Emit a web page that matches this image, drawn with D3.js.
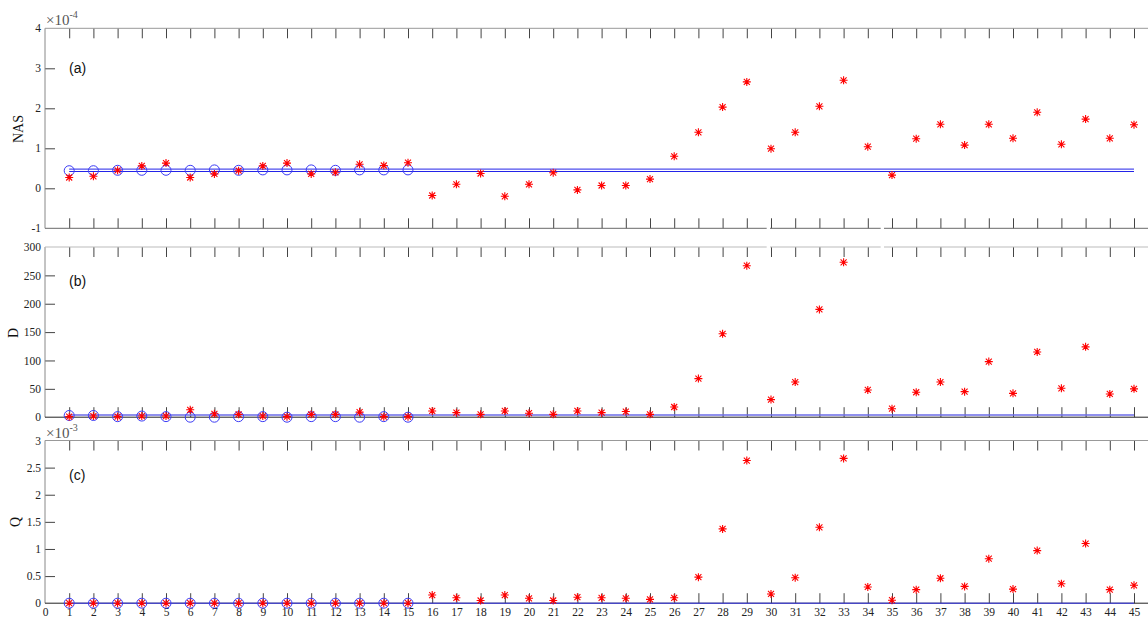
<!DOCTYPE html>
<html><head><meta charset="utf-8">
<script src="https://cdn.jsdelivr.net/npm/d3@7"></script>
<style>
body{margin:0;background:#fff}
svg{display:block}
</style>
</head><body>
<svg id="chart" width="1148" height="619"></svg>
<script>
// ---------- DATA ----------
const samples = d3.range(1, 46);            // 1..45
const xTickLabels = d3.range(0, 46);        // 0..45

// (a) NAS (x 1e-4)
const nasStar = [0.27,0.30,0.45,0.56,0.63,0.27,0.36,0.44,0.56,0.63,0.36,0.40,0.60,0.57,0.64,
                 -0.18,0.10,0.37,-0.20,0.10,0.39,-0.04,0.07,0.07,0.23,0.80,1.40,2.03,2.66,
                 0.99,1.40,2.05,2.70,1.04,0.33,1.24,1.60,1.08,1.60,1.25,1.90,1.10,1.73,1.25,1.59];
const nasCircle = [0.44,0.44,0.45,0.45,0.45,0.45,0.46,0.45,0.46,0.46,0.46,0.45,0.46,0.46,0.46];
const nasLimits = [0.42, 0.48];
const nasTicks = [-1,0,1,2,3,4];

// (b) D
const dStar = [1,2,1,2,2,13,6,5,2,1,5,5,9,1,1,
               11,8,5,11,7,5,11,8,10,5,18,68,147,267,
               31,62,190,273,48,15,44,62,45,98,42,115,51,124,41,50];
const dCircle = [3,3,1,2,1,0,0,1,1,0,1,1,0,1,0];
const dLimit = [4];
const dTicks = [0,50,100,150,200,250,300];

// (c) Q (x 1e-3)
const qStar = [0,0,0,0,0,0,0,0,0,0,0,0,0,0,0,
               0.15,0.10,0.05,0.15,0.09,0.05,0.11,0.10,0.09,0.07,0.10,0.48,1.37,2.63,
               0.17,0.47,1.40,2.67,0.30,0.055,0.25,0.46,0.31,0.82,0.26,0.97,0.36,1.10,0.25,0.33];
const qCircle = [0,0,0,0,0,0,0,0,0,0,0,0,0,0,0];
const qLimit = [0];
const qTicks = [0,0.5,1,1.5,2,2.5,3];

// ---------- LAYOUT ----------
const svg = d3.select("#chart");
const x = d3.scaleLinear().domain([0, 46]).range([45, 45 + 46 * 24.2]);
const xLeft = x(0), xRight = x(46);

const panels = [
  {key:"a", top:28.3, bottom:228.3, domain:[-1,4], ticks:nasTicks, star:nasStar, circle:nasCircle,
   limits:nasLimits, limitColor:"#2323e8", limitWidth:1, ylabel:"NAS", ylx:23, yly:129,
   label:"(a)", labelY:73, exp:"-4", xLabels:false, topGaps:[], bottomGaps:[[766.7,770],[880.7,884]],
   topColor:"#999", bottomColor:"#6a6a6a"},
  {key:"b", top:247, bottom:417.2, domain:[0,300], ticks:dTicks, star:dStar, circle:dCircle,
   limits:dLimit, limitColor:"#6b6be8", limitWidth:1.6, ylabel:"D", ylx:18, yly:333,
   label:"(b)", labelY:286, exp:null, xLabels:false, topGaps:[[766.7,770],[880.7,884]], bottomGaps:[],
   topColor:"#bbb", bottomColor:"#222"},
  {key:"c", top:440.5, bottom:603.2, domain:[0,3], ticks:qTicks, star:qStar, circle:qCircle,
   limits:qLimit, limitColor:"#3a3af0", limitWidth:1, ylabel:"Q", ylx:19.5, yly:522,
   label:"(c)", labelY:480, exp:"-3", xLabels:true, topGaps:[], bottomGaps:[],
   topColor:"#999", bottomColor:"#222"}
];

const starPath = "M-4,0H4M0,-4V4M-3,-3L3,3M-3,3L3,-3";

function hline(g, y, x0, x1, gaps, color){
  let segs = [];
  let cur = x0;
  gaps.forEach(([a,b]) => { segs.push([cur,a]); cur = b; });
  segs.push([cur,x1]);
  segs.forEach(([a,b]) => {
    g.append("line").attr("x1",a).attr("x2",b).attr("y1",y).attr("y2",y)
      .attr("stroke",color).attr("stroke-width",1);
  });
}

panels.forEach(p => {
  const y = d3.scaleLinear().domain(p.domain).range([p.bottom, p.top]);
  const g = svg.append("g");

  const fmt = v => String(v);
  const left = g.append("g").attr("transform",`translate(${xLeft},0)`)
    .call(d3.axisLeft(y).tickValues(p.ticks).tickSizeInner(-10).tickSizeOuter(0).tickPadding(4).tickFormat(fmt));
  const right = g.append("g").attr("transform",`translate(${xRight},0)`)
    .call(d3.axisRight(y).tickValues(p.ticks).tickSizeInner(-10).tickSizeOuter(0).tickFormat(""));
  const top = g.append("g").attr("transform",`translate(0,${p.top})`)
    .call(d3.axisTop(x).tickValues(d3.range(1,47)).tickSizeInner(-10).tickSizeOuter(0).tickFormat(""));
  const bottom = g.append("g").attr("transform",`translate(0,${p.bottom})`)
    .call(d3.axisBottom(x).tickValues(p.xLabels ? xTickLabels : d3.range(1,47))
      .tickSizeInner(-10).tickSizeOuter(0).tickPadding(4.5)
      .tickFormat(p.xLabels ? fmt : ""));
  [left,right,top,bottom].forEach(a => {
    a.select(".domain").remove();
    a.selectAll(".tick line").attr("stroke","#444").attr("stroke-width",1);
    a.selectAll(".tick text").attr("fill","#222")
      .style("font-family","'Liberation Serif','Times New Roman',serif").style("font-size","11.5px");
  });
  bottom.selectAll(".tick").filter(d => d === 0).select("line").remove();
  left.selectAll(".tick").filter(d => d === p.domain[0] || d === p.domain[1]).select("line").remove();
  right.selectAll(".tick").filter(d => d === p.domain[0] || d === p.domain[1]).select("line").remove();

  // borders
  g.append("line").attr("x1",xLeft).attr("x2",xLeft).attr("y1",p.top).attr("y2",p.bottom)
    .attr("stroke","#888").attr("stroke-width",1);
  hline(g, p.top, xLeft, xRight, p.topGaps, p.topColor);
  hline(g, p.bottom, xLeft, xRight, p.bottomGaps, p.bottomColor);

  // limit lines
  p.limits.forEach(v => {
    g.append("line").attr("x1",x(1)).attr("x2",x(45)).attr("y1",y(v)).attr("y2",y(v))
      .attr("stroke",p.limitColor).attr("stroke-width",p.limitWidth);
  });

  // circles
  g.selectAll("circle.pt").data(p.circle).join("circle").attr("class","pt")
    .attr("cx",(d,i)=>x(samples[i])).attr("cy",d=>y(d)).attr("r",5)
    .attr("fill","none").attr("stroke","#3b3bf5").attr("stroke-width",1);

  // stars
  g.selectAll("path.star").data(p.star).join("path").attr("class","star")
    .attr("transform",(d,i)=>`translate(${x(samples[i])},${y(d)})`)
    .attr("d",starPath).attr("fill","none").attr("stroke","#ff0000").attr("stroke-width",1.1);

  // y label
  g.append("text").attr("transform",`translate(${p.ylx},${p.yly}) rotate(-90)`)
    .attr("text-anchor","middle").attr("fill","#111")
    .style("font-family","'Liberation Serif','Times New Roman',serif").style("font-size","14px")
    .text(p.ylabel);

  // panel label
  g.append("text").attr("x",69).attr("y",p.labelY).attr("fill","#111")
    .style("font-family","'Liberation Sans',Arial,sans-serif").style("font-size","14px")
    .text(p.label);

  // exponent
  if (p.exp) {
    const t = g.append("text").attr("x",46).attr("y",p.top - 3).attr("fill","#555")
      .style("font-family","'Liberation Serif','Times New Roman',serif").style("font-size","15px");
    t.append("tspan").text("\u00d710");
    t.append("tspan").attr("dy",-7).style("font-size","10px").text(p.exp);
  }
});
</script>
</body></html>
